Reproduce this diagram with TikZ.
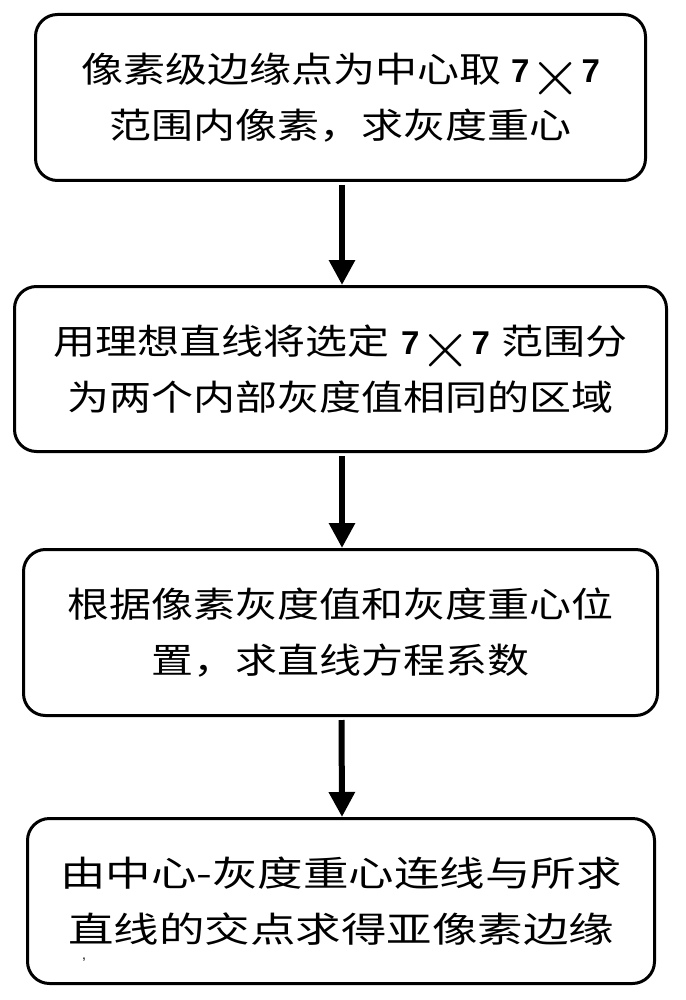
\documentclass[tikz,border=0pt]{standalone}
\usepackage{fontspec}
\usepackage{graphicx}
\usetikzlibrary{arrows.meta}
\newfontfamily\cjk[FakeStretch=1.2]{Noto Sans CJK SC}
\newfontfamily\cjkwide[FakeStretch=1.3]{Noto Sans CJK SC}
\newfontfamily\latb{Liberation Sans Bold}
\newfontfamily\lat{Liberation Sans}
\newcommand{\seven}{\mbox{\latb\fontsize{33}{33}\selectfont 7}}
\newcommand{\svx}{\seven\smash{\raisebox{-13pt}{\scalebox{2.7}{\fontsize{24.88}{25}\selectfont$\times$}}}\seven}
\tikzset{
  stepbox/.style={draw=black, line width=3pt, rounded corners=22pt, fill=white,
    align=center, inner sep=0pt, font=\cjk\fontsize{35}{56}\selectfont},
  arr/.style={line width=6pt, -{Triangle[length=25pt,width=25pt]}, shorten <=3pt}
}
\begin{document}
\begin{tikzpicture}[x=1pt,y=-1pt]
\useasboundingbox[fill=white] (0,0) rectangle (685,1000);
\node[stepbox, minimum width=610pt, minimum height=166pt] (b1) at (340.5,97.5)
  {像素级边缘点为中心取\hspace{10pt}\svx\\范围内像素，求灰度重心};
\node[stepbox, minimum width=652pt, minimum height=165pt] (b2) at (340.5,369)
  {用理想直线将选定\hspace{12pt}\svx\hspace{12pt}范围分\\为两个内部灰度值相同的区域};
\node[stepbox, minimum width=634pt, minimum height=166pt] (b3) at (340.5,632.5)
  {根据像素灰度值和灰度重心位\\置，求直线方程系数};
\node[stepbox, minimum width=627pt, minimum height=165pt, font=\cjkwide\fontsize{35}{56}\selectfont] (b4) at (341,901)
  {由中心-灰度重心连线与所求\\直线的交点求得亚像素边缘};
\node[font=\lat\fontsize{14}{14}\selectfont, inner sep=0pt] (mark) at (84,960) {,};
\draw[arr] ([xshift=1.5pt]b1.south) -- ([xshift=1.5pt]b2.north);
\draw[arr] ([xshift=1.5pt]b2.south) -- ([xshift=1.5pt]b3.north);
\draw[arr] ([xshift=1pt]b3.south) -- ([xshift=1pt]b4.north);
\end{tikzpicture}
\end{document}
